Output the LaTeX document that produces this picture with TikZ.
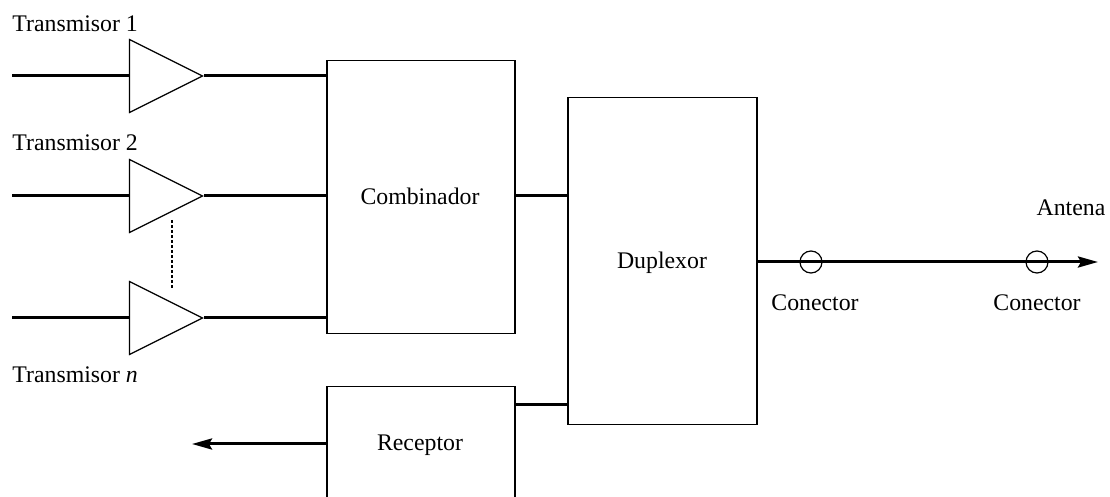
\documentclass[tikz,border=0pt]{standalone}
\usepackage{fontspec}
\setmainfont{Liberation Serif}
\usetikzlibrary{arrows.meta,shapes.geometric}

\tikzset{
	block/.style={draw,line width=0.6pt,inner sep=0pt},
	amp/.style={draw,line width=0.6pt,isosceles triangle,isosceles triangle stretches,
		minimum width=36.5pt,minimum height=36.5pt,inner sep=0pt,anchor=apex},
	conn/.style={draw,line width=0.6pt,circle,minimum size=11pt,inner sep=0pt},
	signal/.style={line width=1.5pt},
	tip/.style={-{Stealth[length=10pt,width=5.5pt,inset=1.5pt]}},
	lbl/.style={inner sep=0pt,font=\fontsize{11.9pt}{14pt}\selectfont}
}

\begin{document}
\begin{tikzpicture}[x=0.5pt,y=-0.5pt]
	\clip (0,0) rectangle (1110,497);

	\node[lbl,anchor=base west] (txt1) at (12,32) {Transmisor 1};
	\node[lbl,anchor=base west] (txt2) at (12,151) {Transmisor 2};
	\node[lbl,anchor=base west] (txtn) at (12,383) {Transmisor \textit{n}};

	\node[amp] (amp1) at (204,76) {};
	\node[amp] (amp2) at (204,196) {};
	\node[amp] (ampn) at (204,318) {};

	\node[block,minimum width=94pt,minimum height=136.5pt] (comb) at (421,197) {};
	\node[lbl,anchor=base] (combtxt) at (420,205) {Combinador};
	\node[block,minimum width=94.5pt,minimum height=163.5pt] (dup) at (662.5,261) {};
	\node[lbl,anchor=base] (duptxt) at (662,269) {Duplexor};
	\node[block,minimum width=94pt,minimum height=57pt] (rec) at (421,443.5) {};
	\node[lbl,anchor=base] (rectxt) at (420,451) {Receptor};

	% entradas
	\coordinate (in1) at (12,76);
	\coordinate (in2) at (12,196);
	\coordinate (inn) at (12,318);
	\draw[signal] (in1) -- (amp1.lower side);
	\draw[signal] (in2) -- (amp2.lower side);
	\draw[signal] (inn) -- (ampn.lower side);
	\draw[signal] (amp1.apex) -- (amp1.apex -| comb.west);
	\draw[signal] (amp2.apex) -- (amp2.apex -| comb.west);
	\draw[signal] (ampn.apex) -- (ampn.apex -| comb.west);

	\coordinate (dot1) at (172,220);
	\coordinate (dot2) at (172,290);
	\draw[line width=1pt,dash pattern=on 1.5pt off 1pt] (dot1) -- (dot2);

	\coordinate (combout) at (comb.east |- amp2.apex);
	\draw[signal] (combout) -- (combout -| dup.west);
	\coordinate (recin) at (rec.east |- 0,405);
	\draw[signal] (recin) -- (recin -| dup.west);

	\coordinate (recout) at (192,444);
	\draw[signal,tip] (rec.west |- recout) -- (recout);

	% salida
	\coordinate (ant) at (1098,262);
	\draw[signal,tip] (dup.east |- ant) -- (ant);
	\node[conn] (conn1) at (811,262) {};
	\node[conn] (conn2) at (1037,262) {};

	\node[lbl,anchor=base] (conntxt1) at (815,311) {Conector};
	\node[lbl,anchor=base] (conntxt2) at (1037,311) {Conector};
	\node[lbl,anchor=base] (anttxt) at (1071,216) {Antena};
\end{tikzpicture}
\end{document}
